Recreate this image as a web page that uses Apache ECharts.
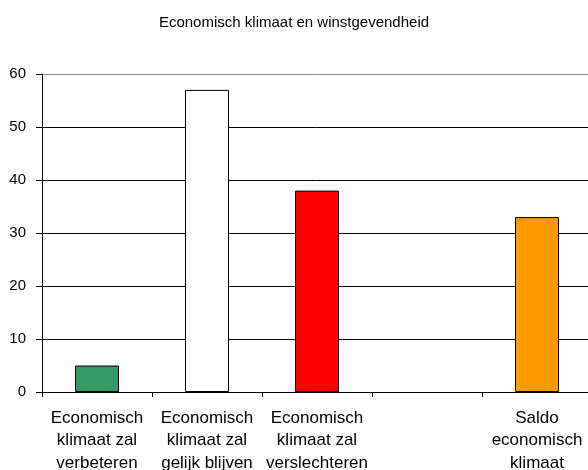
<!DOCTYPE html>
<html>
<head>
<meta charset="utf-8">
<script src="https://cdn.jsdelivr.net/npm/echarts@6/dist/echarts.min.js"></script>
<style>
  html, body { margin: 0; padding: 0; background: #fff; }
  #main { width: 588px; height: 470px; }
</style>
</head>
<body>
<div id="main"></div>
<script>
var categories = [
  "Economisch\nklimaat zal\nverbeteren",
  "Economisch\nklimaat zal\ngelijk blijven",
  "Economisch\nklimaat zal\nverslechteren",
  "",
  "Saldo\neconomisch\nklimaat"
];
var values = [5, 57, 38, null, 33];
var barColors = ["#339966", "#ffffff", "#ff0000", "#ffffff", "#ff9900"];
var yTicks = { min: 0, max: 60, interval: 10 };

var chartDom = document.getElementById("main");
var myChart = echarts.init(chartDom);
var option;

option = {
  animation: false,
  title: {
    text: "Economisch klimaat en winstgevendheid",
    left: "center",
    top: 10,
    textStyle: {
      fontFamily: "Liberation Sans",
      fontSize: 15,
      fontWeight: "normal",
      color: "#000"
    }
  },
  grid: {
    left: 42,
    top: 74,
    width: 550,
    height: 318,
    outerBoundsMode: "none"
  },
  xAxis: {
    type: "category",
    data: categories,
    axisLine: { lineStyle: { color: "#000", width: 1 } },
    axisTick: { show: true, length: 5, alignWithLabel: false, lineStyle: { color: "#000" } },
    axisLabel: {
      interval: 0,
      margin: 15,
      color: "#000",
      fontFamily: "Liberation Sans",
      fontSize: 17,
      lineHeight: 22.5
    }
  },
  yAxis: {
    type: "value",
    min: yTicks.min,
    max: yTicks.max,
    interval: yTicks.interval,
    axisLine: { show: true, lineStyle: { color: "#000", width: 1 } },
    axisTick: { show: true, length: 6, lineStyle: { color: "#000" } },
    axisLabel: {
      margin: 16,
      color: "#000",
      fontFamily: "Liberation Sans",
      fontSize: 15
    },
    splitLine: {
      show: true,
      lineStyle: {
        color: ["#000", "#000", "#000", "#000", "#000", "#000", "#888"],
        width: 1
      }
    }
  },
  series: [
    {
      type: "bar",
      barWidth: 44,
      data: values.map(function (v, i) {
        return { value: v, itemStyle: { color: barColors[i] } };
      }),
      itemStyle: { borderColor: "#000", borderWidth: 1 }
    }
  ]
};

option && myChart.setOption(option);
</script>
</body>
</html>
